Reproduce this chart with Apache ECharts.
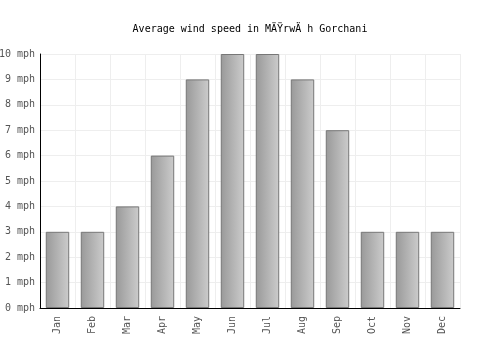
<!DOCTYPE html>
<html>
<head>
<meta charset="utf-8">
<script src="https://cdn.jsdelivr.net/npm/echarts@6/dist/echarts.min.js"></script>
<style>
  html, body { margin: 0; padding: 0; background: #fff; }
  #chart { width: 500px; height: 350px; }
</style>
</head>
<body>
<div id="chart"></div>
<script>
var months = ['Jan', 'Feb', 'Mar', 'Apr', 'May', 'Jun', 'Jul', 'Aug', 'Sep', 'Oct', 'Nov', 'Dec'];
var windSpeed = [3, 3, 4, 6, 9, 10, 10, 9, 7, 3, 3, 3];
var titleText = 'Average wind speed in MÄŸrwÄ h Gorchani';

var font = '"DejaVu Sans Mono", monospace';
var myChart = echarts.init(document.getElementById('chart'));

var option = {
    animation: false,
    title: {
        text: titleText,
        left: 'center',
        top: 19,
        textStyle: { fontFamily: font, fontSize: 10, fontWeight: 'normal', color: '#000' }
    },
    grid: { left: 40, right: 40, top: 54, bottom: 42, outerBoundsMode: 'none' },
    xAxis: {
        type: 'category',
        data: months,
        axisLine: { lineStyle: { color: '#000' } },
        axisTick: { show: false },
        axisLabel: { rotate: 90, fontFamily: font, fontSize: 10, color: '#555', margin: 8 },
        splitLine: { show: true, interval: 0, lineStyle: { color: '#eee' } }
    },
    yAxis: {
        type: 'value',
        min: 0,
        max: 10,
        interval: 1,
        axisLine: { show: true, lineStyle: { color: '#000' } },
        axisTick: { show: false },
        axisLabel: { formatter: '{value} mph', fontFamily: font, fontSize: 10, color: '#555', margin: 5 },
        splitLine: { lineStyle: { color: '#eee' } }
    },
    series: [{
        type: 'bar',
        data: windSpeed,
        barWidth: '67%',
        itemStyle: {
            borderColor: '#777',
            borderWidth: 1,
            color: new echarts.graphic.LinearGradient(0, 0, 1, 0, [
                { offset: 0, color: '#999' },
                { offset: 1, color: '#ccc' }
            ])
        }
    }]
};

myChart.setOption(option);
</script>
</body>
</html>
